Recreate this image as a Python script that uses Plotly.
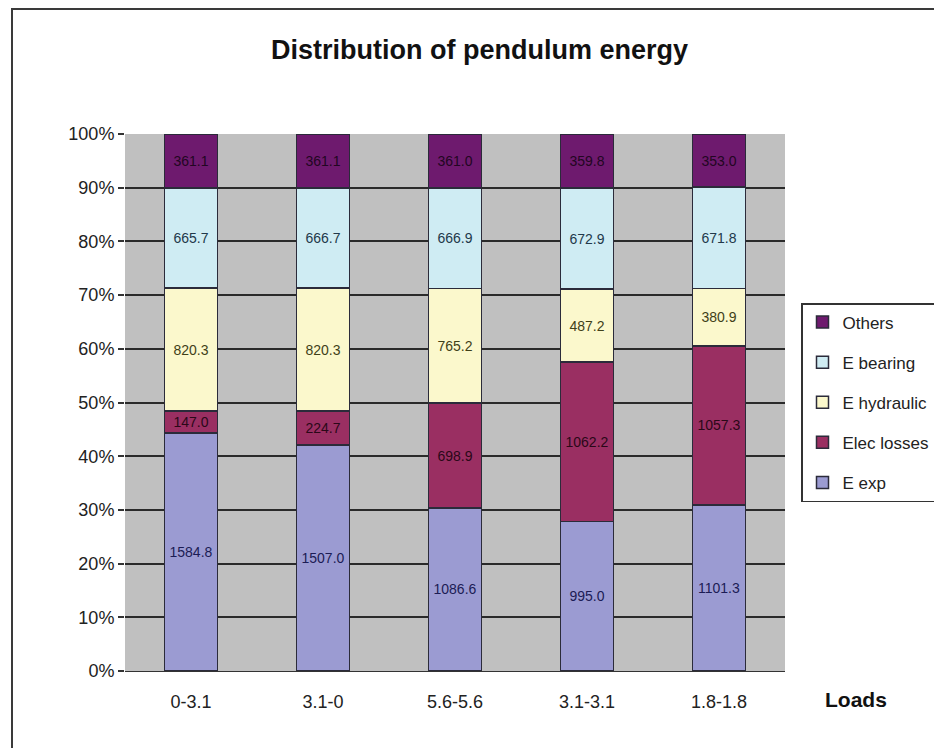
import plotly.graph_objects as go

# Load cases and energy components
loads = ["0-3.1", "3.1-0", "5.6-5.6", "3.1-3.1", "1.8-1.8"]
e_exp = [1584.8, 1507.0, 1086.6, 995.0, 1101.3]
elec_losses = [147.0, 224.7, 698.9, 1062.2, 1057.3]
e_hydraulic = [820.3, 820.3, 765.2, 487.2, 380.9]
e_bearing = [665.7, 666.7, 666.9, 672.9, 671.8]
others = [361.1, 361.1, 361.0, 359.8, 353.0]

y_ticks = [0, 10, 20, 30, 40, 50, 60, 70, 80, 90, 100]
y_tick_labels = [f"{t}%" for t in y_ticks]

series = [
    ("E exp", e_exp, "#9b9bd2", "#1c1c55"),
    ("Elec losses", elec_losses, "#9a2f62", "#2a0818"),
    ("E hydraulic", e_hydraulic, "#fbf8cc", "#3f3f18"),
    ("E bearing", e_bearing, "#cfecf3", "#22384a"),
    ("Others", others, "#6e1a6e", "#220622"),
]

FONT = "Liberation Sans, Arial, sans-serif"

fig = go.Figure()
for i, (name, vals, fill, txt) in enumerate(series):
    fig.add_trace(go.Bar(
        x=loads, y=vals, name=name, legendgroup=name,
        legendrank=len(series) - i,
        text=[f"{v:.1f}" for v in vals],
        textposition="inside", insidetextanchor="middle", textangle=0,
        textfont=dict(family=FONT, size=14, color=txt),
        marker=dict(color=fill, line=dict(color="#2b2b3a", width=1.5)),
    ))

# plot area in pixels: x 125..785, y 134..671
L, R, T, B = 125, 785, 134, 671
W, H = R - L, B - T
px = lambda x: (x - L) / W
py = lambda y: (B - y) / H

fig.update_layout(
    width=934, height=748,
    barmode="stack", barnorm="percent", bargap=0.6,
    margin=dict(l=L, r=934 - R, t=T, b=748 - B, autoexpand=False),
    paper_bgcolor="white", plot_bgcolor="#c0c0c0",
    font=dict(family=FONT, color="#222222"),
    showlegend=True,
    legend=dict(
        x=px(801), y=py(303), xanchor="left", yanchor="top",
        traceorder="grouped", tracegroupgap=15, itemwidth=30,
        entrywidth=150, entrywidthmode="pixels",
        font=dict(family=FONT, size=17, color="#222222"),
        bgcolor="white", bordercolor="#333333", borderwidth=1.5,
    ),
    uniformtext=dict(minsize=14, mode="show"),
    xaxis=dict(
        tickfont=dict(size=18, color="#222222"),
        showgrid=False, ticks="", ticklabelstandoff=14,
        showline=True, linecolor="#333333", linewidth=1,
    ),
    yaxis=dict(
        range=[0, 100], tickvals=y_ticks, ticktext=y_tick_labels,
        tickfont=dict(size=18, color="#222222"),
        showgrid=True, gridcolor="#2a2a2a", gridwidth=2,
        ticks="outside", ticklen=6, tickcolor="#333333", tickwidth=1.5,
        showline=False, zeroline=False,
    ),
    shapes=[dict(
        type="rect", xref="paper", yref="paper",
        x0=px(12), x1=px(960), y0=py(780), y1=py(9),
        line=dict(color="#3a3a3a", width=2), fillcolor="rgba(0,0,0,0)", layer="below",
    )],
    annotations=[
        dict(text="<b>Distribution of pendulum energy</b>", xref="paper", yref="paper",
             x=px(479), y=py(50), xanchor="center", yanchor="middle", showarrow=False,
             font=dict(family=FONT, size=27, color="#111111")),
        dict(text="<b>Loads</b>", xref="paper", yref="paper",
             x=px(856), y=py(700), xanchor="center", yanchor="middle", showarrow=False,
             font=dict(family=FONT, size=21, color="#111111")),
    ],
)

fig.write_html("out.html")
